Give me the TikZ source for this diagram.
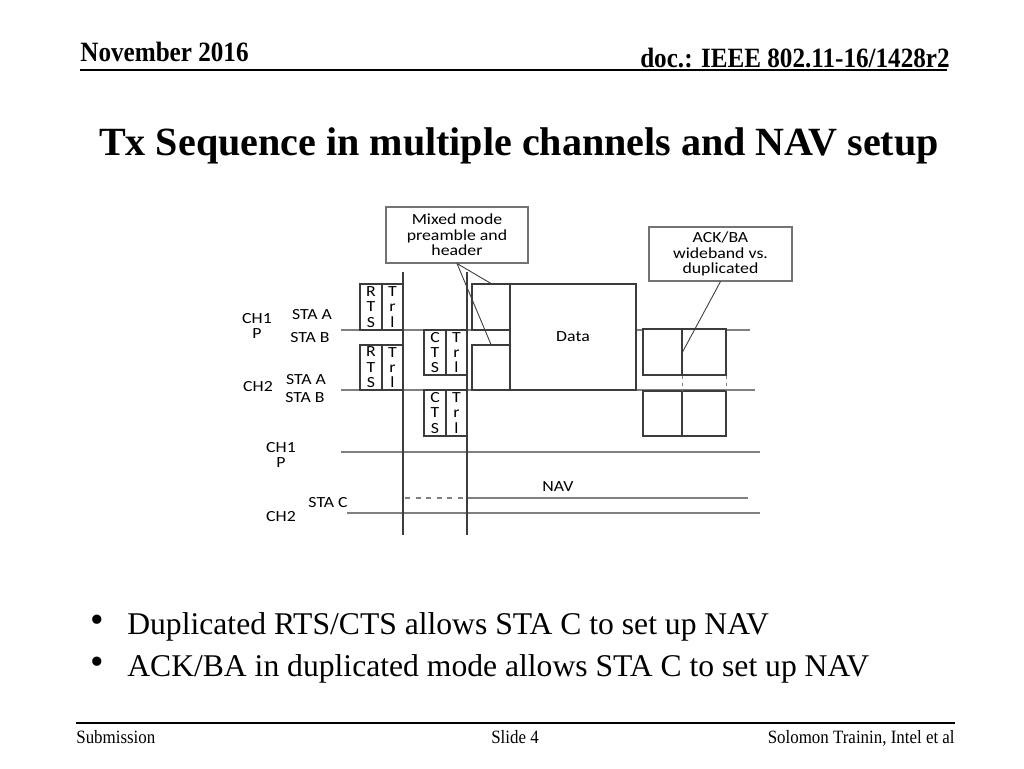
\documentclass[tikz,border=0pt]{standalone}
\usepackage{fontspec}
\setmainfont{Liberation Serif}
\newfontfamily\diagfont[FakeStretch=1.15]{Carlito}
\newfontfamily\slimserif[FakeStretch=0.9]{Liberation Serif}
\usepackage{tikz}
\usetikzlibrary{positioning}
\definecolor{lanegray}{RGB}{128,128,128}
\definecolor{edgegray}{RGB}{60,60,60}

\begin{document}
\begin{tikzpicture}[x=0.02cm, y=-0.02cm,
  frame/.style={draw=edgegray, line width=0.6pt, fill=white, inner sep=0pt,
                align=center, font=\diagfont\fontsize{8.8}{8.8}\selectfont},
  callout/.style={frame, draw=black!55},
  lane/.style={lanegray, line width=0.7pt},
  marker/.style={edgegray, line width=0.8pt},
  lbl/.style={font=\diagfont\fontsize{8.8}{8.8}\selectfont, align=center, inner sep=0pt},
  pin/.style={edgegray, line width=0.5pt},
  hdr/.style={font=\slimserif\bfseries\fontsize{15.9}{18}\selectfont, inner sep=0pt},
  foot/.style={font=\slimserif\fontsize{10.7}{12}\selectfont, inner sep=0pt},
  point/.style={font=\fontsize{18}{21}\selectfont, inner sep=0pt},
]
  \useasboundingbox (0,0) rectangle (1024,768);

  % slide header and title
  \node[hdr, anchor=base west] (month) at (80,61) {November 2016};
  \node[hdr, anchor=base east] (docid) at (950,67) {doc.: IEEE 802.11-16/1428r2};
  \draw[line width=1.5pt] (80,70) -- (947,70);
  \node[font=\bfseries\fontsize{22.8}{27}\selectfont, anchor=base, inner sep=0pt] (title)
    at (519,155) {Tx Sequence in multiple channels and NAV setup};

  % channel lanes
  \draw[lane] (341,330) -- (750,330);
  \draw[lane] (341,390) -- (755,390);
  \draw[lane] (341,452) -- (760,452);
  \draw[lane] (347,513) -- (760,513);
  \draw[lane, dashed] (405,498) -- (467,498);
  \draw[lane] (467,498) -- (748,498);

  % time markers
  \draw[marker] (403,272) -- (403,535);
  \draw[marker] (467,272) -- (467,535);

  % RTS / CTS frames
  \node[frame, minimum width=0.44cm, minimum height=0.92cm] (rtsA) at (371,307)   {R\\T\\S};
  \node[frame, minimum width=0.42cm, minimum height=0.92cm] (trlA) at (392.5,307) {T\\r\\l};
  \node[frame, minimum width=0.44cm, minimum height=0.90cm] (rtsB) at (371,367.5)   {R\\T\\S};
  \node[frame, minimum width=0.42cm, minimum height=0.90cm] (trlB) at (392.5,367.5) {T\\r\\l};
  \node[frame, minimum width=0.44cm, minimum height=0.90cm] (ctsA) at (435,352.5)   {C\\T\\S};
  \node[frame, minimum width=0.42cm, minimum height=0.90cm] (ctrA) at (456.5,352.5) {T\\r\\l};
  \node[frame, minimum width=0.44cm, minimum height=0.92cm] (ctsB) at (435,413)   {C\\T\\S};
  \node[frame, minimum width=0.42cm, minimum height=0.92cm] (ctrB) at (456.5,413) {T\\r\\l};

  % preamble and data
  \node[frame, minimum width=0.76cm, minimum height=0.92cm] (preA) at (491,307) {};
  \node[frame, minimum width=0.76cm, minimum height=0.90cm] (preB) at (491,367.5) {};
  \node[frame, minimum width=2.52cm, minimum height=2.12cm] (data) at (573,337) {Data};

  % ACK/BA frames
  \node[frame, minimum width=0.78cm, minimum height=0.92cm] (ackA1) at (662.5,352) {};
  \node[frame, minimum width=0.88cm, minimum height=0.92cm] (ackA2) at (704,352) {};
  \node[frame, minimum width=0.78cm, minimum height=0.90cm] (ackB1) at (662.5,413.5) {};
  \node[frame, minimum width=0.88cm, minimum height=0.90cm] (ackB2) at (704,413.5) {};
  \draw[lane, dash pattern=on 2pt off 2pt] (ackA1.south east) -- (ackB1.north east);
  \draw[lane, dash pattern=on 2pt off 2pt] (ackA2.south east) -- (ackB2.north east);

  % callouts
  \node[callout, minimum width=2.84cm, minimum height=1.12cm] (mixed) at (457,235)
    {Mixed mode\\preamble and\\header};
  \node[callout, minimum width=2.86cm, minimum height=1.08cm] (ackba) at (720.5,254)
    {ACK/BA\\wideband vs.\\duplicated};
  \draw[pin] (mixed.south) -- (preA.north);
  \draw[pin] (mixed.south) -- (preB.north);
  \draw[pin] (ackba.south) -- (ackA1.east);

  % lane labels
  \node[lbl] (ch1p)  at (257,326) {CH1\\P};
  \node[lbl] (staA1) at (312,315) {STA A};
  \node[lbl] (staB1) at (310,338) {STA B};
  \node[lbl] (ch2)   at (258,387) {CH2};
  \node[lbl] (staA2) at (306,380) {STA A};
  \node[lbl] (staB2) at (305,398) {STA B};
  \node[lbl] (ch1pc) at (281,455) {CH1\\P};
  \node[lbl] (staC)  at (328,503) {STA C};
  \node[lbl] (ch2c)  at (281,517) {CH2};
  \node[lbl] (nav)   at (558,487) {NAV};

  % bullets
  \node[point, font=\fontsize{22}{22}\selectfont] (dot1) at (97,624) {•};
  \node[point, anchor=base west] (item1) at (127,634) {Duplicated RTS/CTS allows STA C to set up NAV};
  \node[point, font=\fontsize{22}{22}\selectfont] (dot2) at (97,666) {•};
  \node[point, anchor=base west] (item2) at (127,676) {ACK/BA in duplicated mode allows STA C to set up NAV};

  % footer
  \draw[line width=1.2pt] (76,723) -- (955,723);
  \node[foot, anchor=base west] (subm) at (76,743) {Submission};
  \node[foot, anchor=base] (slide) at (515,743) {Slide 4};
  \node[foot, anchor=base east] (auth) at (955,743) {Solomon Trainin, Intel et al};
\end{tikzpicture}
\end{document}
